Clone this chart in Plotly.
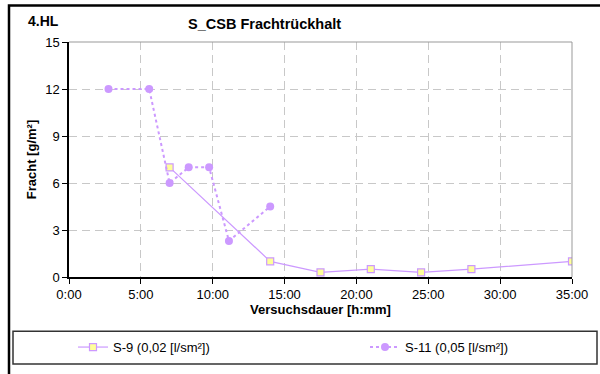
import plotly.graph_objects as go

# Versuchsdauer in Stunden, Fracht in g/m²
s9_hours = [7.0, 14.0, 17.5, 21.0, 24.5, 28.0, 35.0]
s9_load = [7.0, 1.0, 0.3, 0.5, 0.3, 0.5, 1.0]

s11_hours = [2.75, 5.58, 7.0, 8.33, 9.75, 11.13, 14.0]
s11_load = [12.0, 12.0, 6.0, 7.0, 7.0, 2.3, 4.5]

tick_hours = [0, 5, 10, 15, 20, 25, 30, 35]
tick_labels = [f"{h}:00" for h in tick_hours]

lav = "#CC99FF"
font = "Liberation Sans, Arial, sans-serif"

fig = go.Figure()
fig.add_trace(go.Scatter(
    x=s9_hours, y=s9_load, mode="lines+markers",
    name="S-9 (0,02 [l/sm²])", legend="legend",
    line=dict(color=lav, width=1.2),
    marker=dict(symbol="square", size=7, color="#FFFF99",
                line=dict(color=lav, width=1.2)),
))
fig.add_trace(go.Scatter(
    x=s11_hours, y=s11_load, mode="lines+markers",
    name="S-11 (0,05 [l/sm²])", legend="legend2",
    line=dict(color=lav, width=2, dash="dot"),
    marker=dict(symbol="circle", size=8, color=lav),
))

# plot area: x 69..572 px, y 42..280 px
pw, ph = 503, 238
def px_x(v):
    return (v - 69) / pw
def px_y(v):
    return (280 - v) / ph

shapes = [
    # outer chart frame (cut off at right and bottom)
    dict(type="rect", xref="paper", yref="paper",
         x0=px_x(9), x1=px_x(606), y0=px_y(380), y1=px_y(5),
         line=dict(color="black", width=2.5)),
    # legend box
    dict(type="rect", xref="paper", yref="paper",
         x0=px_x(13), x1=px_x(597), y0=px_y(368), y1=px_y(335),
         line=dict(color="#333333", width=1.5)),
    # top / right border of plot area
    dict(type="line", xref="paper", yref="paper",
         x0=0, x1=1, y0=1, y1=1, line=dict(color="#999999", width=1)),
    dict(type="line", xref="paper", yref="paper",
         x0=1, x1=1, y0=0, y1=1, line=dict(color="#999999", width=1)),
]

leg = dict(orientation="h", yanchor="middle", xanchor="left",
           y=px_y(351), font=dict(size=13), bgcolor="rgba(0,0,0,0)")

fig.update_layout(
    width=600, height=374,
    margin=dict(l=69, r=28, t=42, b=94),
    paper_bgcolor="white", plot_bgcolor="white",
    font=dict(family=font, size=13, color="black"),
    shapes=shapes,
    showlegend=True,
    legend=dict(leg, x=px_x(73)),
    legend2=dict(leg, x=px_x(365)),
    annotations=[
        dict(text="<b>S_CSB Frachtrückhalt</b>", xref="paper", yref="paper",
             x=px_x(264), y=px_y(24), showarrow=False,
             xanchor="center", yanchor="middle", font=dict(size=14.5)),
        dict(text="<b>4.HL</b>", xref="paper", yref="paper",
             x=px_x(26), y=px_y(21), showarrow=False,
             xanchor="left", yanchor="middle", font=dict(size=14)),
    ],
)

fig.update_xaxes(
    range=[0, 35], tickvals=tick_hours, ticktext=tick_labels,
    showgrid=True, gridcolor="#C8C8C8", griddash="8px,5px", gridwidth=1,
    showline=True, linecolor="black", linewidth=1.5,
    ticks="outside", ticklen=5, tickcolor="black",
    zeroline=False,
    title=dict(text="<b>Versuchsdauer [h:mm]</b>", font=dict(size=13), standoff=2),
)
fig.update_yaxes(
    range=[0, 15], dtick=3,
    showgrid=True, gridcolor="#C8C8C8", griddash="8px,5px", gridwidth=1,
    showline=True, linecolor="black", linewidth=1.5,
    ticks="outside", ticklen=5, tickcolor="black",
    zeroline=False,
    title=dict(text="<b>Fracht [g/m²]</b>", font=dict(size=13), standoff=6),
)

fig.write_html("out.html", config={"displayModeBar": False},
               post_script="document.body.style.margin='0';")
